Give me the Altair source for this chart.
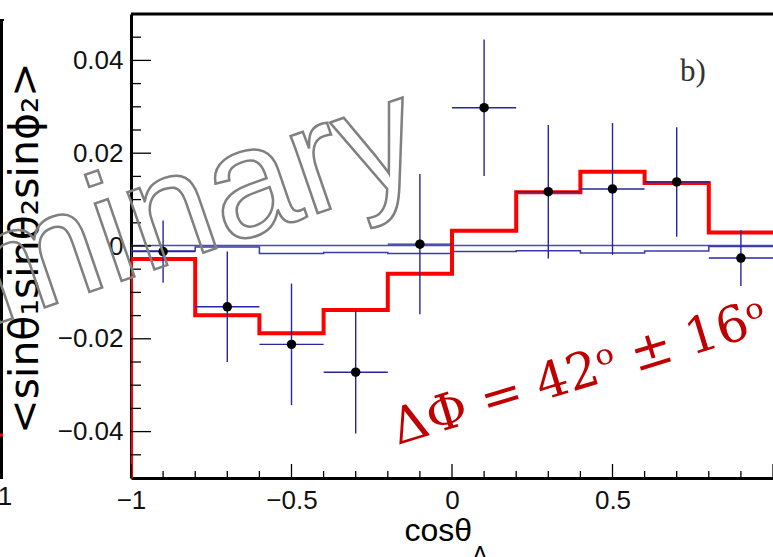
import altair as alt
import pandas as pd

# Binning in cos(theta_Lambda)
bin_edges = [-1.0, -0.8, -0.6, -0.4, -0.2, 0.0, 0.2, 0.4, 0.6, 0.8, 1.0]
bin_centers = [-0.9, -0.7, -0.5, -0.3, -0.1, 0.1, 0.3, 0.5, 0.7, 0.9]
half_width = 0.1

# Measured <sin th1 sin th2 sin phi2> with statistical errors
data_y = [-0.0012, -0.0131, -0.0212, -0.0272, 0.0004, 0.0298, 0.0117, 0.0123, 0.0138, -0.0026]
data_err = [0.0067, 0.0119, 0.0131, 0.0132, 0.0151, 0.0147, 0.0144, 0.0142, 0.0118, 0.0060]

# Fitted prediction (red) and two unpolarised reference histograms (blue)
fit_y = [-0.0028, -0.0149, -0.0188, -0.0138, -0.0060, 0.0033, 0.0116, 0.0160, 0.0136, 0.0029]
ref_a = [0.0001, 0.0001, 0.0001, 0.0001, 0.0001, 0.0001, 0.0001, 0.0001, 0.0001, 0.0001]
ref_b = [-0.0011, -0.0002, -0.0016, -0.0014, -0.0016, -0.0012, -0.0010, -0.0015, -0.0011, -0.0001]

# Axis ranges and tick positions
x_range = [-1.0, 1.0]
y_range = [-0.05, 0.05]
x_major = [-1.0, -0.5, 0.0, 0.5, 1.0]
x_minor = [-0.9, -0.8, -0.7, -0.6, -0.4, -0.3, -0.2, -0.1, 0.1, 0.2, 0.3, 0.4, 0.6, 0.7, 0.8, 0.9]
x_labels = [-1.0, -0.5, 0.0, 0.5]
y_major = [-0.04, -0.02, 0.0, 0.02, 0.04]
y_minor = [-0.045, -0.035, -0.03, -0.025, -0.015, -0.01, -0.005,
           0.005, 0.01, 0.015, 0.025, 0.03, 0.035, 0.045]

# Texts
x_title = ["cosθ"]
x_title_sub = ["Λ"]
y_title = ["<sinθ₁sinθ₂sinϕ₂>"]
panel_tag = ["b)"]
result_text = ["ΔΦ = 42ᵒ ± 16ᵒ"]
watermark = ["Preliminary"]
neighbour_label = ["1"]

W, H = 642, 464
xs = alt.Scale(domain=x_range, nice=False, zero=False)
ys = alt.Scale(domain=y_range, nice=False, zero=False)

# One axis definition per channel, shared by every layer
XA = alt.Axis(values=x_labels, format="~g", ticks=False, grid=False,
              domain=True, domainColor="black", domainWidth=3,
              labelFont="Liberation Sans", labelFontSize=26, labelColor="#111111",
              labelPadding=9, labelFlush=False, labelOverlap=False, title=None)
YA = alt.Axis(values=y_major, format="~g", ticks=False, grid=False,
              domain=True, domainColor="black", domainWidth=3,
              labelFont="Liberation Sans", labelFontSize=26, labelColor="#111111",
              labelPadding=8, labelFlush=False, labelOverlap=False, title=None)


def X(field):
    return alt.X(field, scale=xs, axis=XA)


def Y(field):
    return alt.Y(field, scale=ys, axis=YA)


def step_frame(values):
    """ROOT-style histogram outline: rises from the bottom of the frame."""
    lo = y_range[0]
    xv = [bin_edges[0]] + bin_edges[:-1] + [bin_edges[-1]]
    yv = [lo] + values + [values[-1]]
    return pd.DataFrame({"x": xv, "y": yv, "i": list(range(len(xv)))})


def hist_layer(values, color, width):
    return alt.Chart(step_frame(values)).mark_line(
        interpolate="step-after", color=color, strokeWidth=width, clip=True
    ).encode(x=X("x:Q"), y=Y("y:Q"), order="i:Q")


pts = pd.DataFrame({"x": bin_centers, "y": data_y, "e": data_err})
pts["lo"] = pts["y"] - pts["e"]
pts["hi"] = pts["y"] + pts["e"]
pts["xl"] = pts["x"] - half_width
pts["xr"] = pts["x"] + half_width

err_color = "#2626a0"
vbars = alt.Chart(pts).mark_rule(color=err_color, strokeWidth=1.4).encode(
    x=X("x:Q"), y=Y("lo:Q"), y2="hi:Q"
)
hbars = alt.Chart(pts).mark_rule(color=err_color, strokeWidth=1.4, clip=True).encode(
    x=X("xl:Q"), x2="xr:Q", y=Y("y:Q")
)
dots = alt.Chart(pts).mark_circle(color="black", opacity=1, size=90).encode(
    x=X("x:Q"), y=Y("y:Q")
)


# Inward-pointing ticks drawn on the frame
def tick_rules(values, horizontal, length):
    df = pd.DataFrame({"v": values})
    if horizontal:
        return alt.Chart(df).mark_rule(color="black", strokeWidth=1.3).encode(
            y=Y("v:Q"), x=alt.value(0), x2=alt.value(length)
        )
    return alt.Chart(df).mark_rule(color="black", strokeWidth=1.3).encode(
        x=X("v:Q"), y=alt.value(H), y2=alt.value(H - length)
    )


one = pd.DataFrame({"k": [0]})
top_frame = alt.Chart(one).mark_rule(color="black", strokeWidth=3).encode(
    x=alt.value(0), x2=alt.value(W), y=alt.value(0)
)

# Edge of the neighbouring panel on the left
nb_frame = alt.Chart(one).mark_rule(color="black", strokeWidth=3).encode(
    x=alt.value(-129.5), y=alt.value(6), y2=alt.value(465)
)
nb_top = alt.Chart(one).mark_rule(color="black", strokeWidth=2).encode(
    x=alt.value(-131), x2=alt.value(-127), y=alt.value(6)
)
nb_red = alt.Chart(one).mark_rule(color="#ff0000", strokeWidth=3).encode(
    x=alt.value(-131), x2=alt.value(-128), y=alt.value(421)
)


def label(texts, x, y, **kw):
    return alt.Chart(pd.DataFrame({"t": texts})).mark_text(**kw).encode(
        text="t:N", x=alt.value(x), y=alt.value(y)
    )


nb_label = label(neighbour_label, -126, 483, font="Liberation Sans", fontSize=26,
                 color="#111111", align="center", baseline="middle")
xt = label(x_title, 341, 527, font="Liberation Sans", fontSize=32, color="black",
           align="right", baseline="alphabetic")
xt_sub = label(x_title_sub, 341, 549, font="Liberation Sans", fontSize=24, color="black",
               align="left", baseline="alphabetic")
yt = label(y_title, -93, 234, font="DejaVu Sans", fontSize=41, color="black",
           align="center", baseline="alphabetic", angle=270)
tag = label(panel_tag, 549, 67, font="Liberation Serif", fontSize=31, color="#333333",
            align="left", baseline="alphabetic")
result = label(result_text, 453, 374, font="DejaVu Serif", fontSize=50, color="#c00000",
               align="center", baseline="alphabetic", angle=343)
wm = label(watermark, -68, 287, font="Liberation Sans", fontSize=155, fill="transparent",
           stroke="#808080", strokeWidth=2.5, align="center", baseline="alphabetic", angle=341)

chart = alt.layer(
    hist_layer(ref_a, "#4a4ab8", 1.5),
    hist_layer(ref_b, "#3a3aaa", 1.5),
    hist_layer(fit_y, "#ff0000", 4),
    vbars, hbars, dots,
    tick_rules(y_major, True, 20),
    tick_rules(y_minor, True, 10),
    tick_rules(x_major, False, 14),
    tick_rules(x_minor, False, 7),
    top_frame, nb_frame, nb_top, nb_red, nb_label,
    xt, xt_sub, yt, tag, result, wm,
).properties(
    width=W, height=H,
    padding={"left": 131, "top": 14, "right": 0, "bottom": 79},
    autosize=alt.AutoSizeParams(type="none"),
    background="white",
).configure_view(strokeWidth=0)

chart.save("out.html", embed_options={"renderer": "svg", "actions": False})
